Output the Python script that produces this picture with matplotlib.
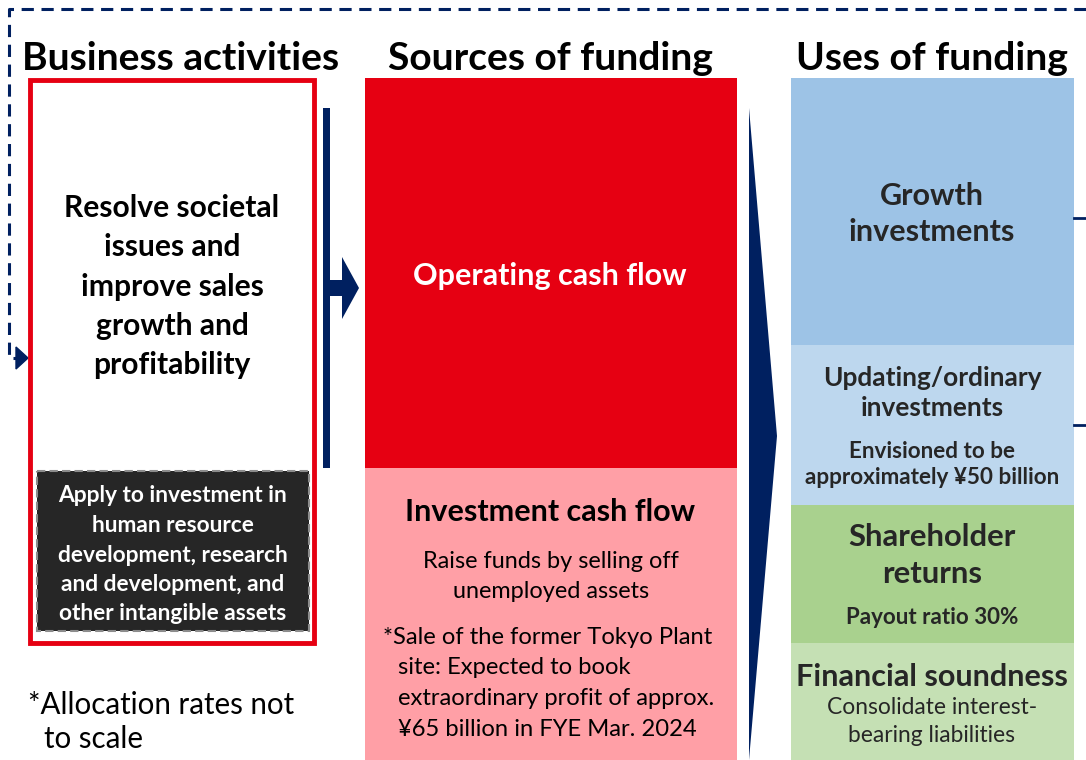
import matplotlib.pyplot as plt
from matplotlib.patches import Rectangle, Polygon

plt.rcParams['font.family'] = ['Lato', 'DejaVu Sans']

W, H = 1086, 760
PT = 0.72  # px -> pt at dpi 100
DY = 2     # small baseline nudge

NAVY = '#002060'
RED = '#e60012'
DARK = '#262626'

headers = ['Business activities', 'Sources of funding', 'Uses of funding']
business_lines = ['Resolve societal', 'issues and', 'improve sales', 'growth and', 'profitability']
intangible_lines = ['Apply to investment in', 'human resource', 'development, research',
                    'and development, and', 'other intangible assets']
operating_label = 'Operating cash flow'
investment_title = 'Investment cash flow'
investment_lines = ['Raise funds by selling off', 'unemployed assets']
note_lines = ['*Sale of the former Tokyo Plant', 'site: Expected to book',
              'extraordinary profit of approx.', '¥65 billion in FYE Mar. 2024']
scale_note = ['*Allocation rates not', 'to scale']

uses_titles = [['Growth', 'investments'], ['Updating/ordinary', 'investments'],
               ['Shareholder', 'returns'], ['Financial soundness']]
uses_subs = [[], ['Envisioned to be', 'approximately ¥50 billion'],
             ['Payout ratio 30%'], ['Consolidate interest-', 'bearing liabilities']]
uses_colors = ['#9dc3e6', '#bdd7ee', '#a9d18e', '#c5e0b4']
uses_edges = [78, 345, 505, 643, 760]

fig = plt.figure(figsize=(W / 100, H / 100), dpi=100)
ax = fig.add_axes([0, 0, 1, 1])
ax.set_xlim(0, W)
ax.set_ylim(H, 0)
ax.axis('off')


def txt(x, y, s, px, bold=False, color='black', ha='center'):
    ax.text(x, y + DY, s, fontsize=px * PT, fontweight='bold' if bold else 'normal',
            color=color, ha=ha, va='center')


# feedback dashed loop
ax.plot([W, 9, 9, 22], [9, 9, 358, 358], color=NAVY, lw=2.2, ls=(0, (4, 2.5)),
        solid_capstyle='butt')
ax.add_patch(Polygon([[16, 347], [28, 358], [16, 369]], color=NAVY))

# headers
for x, s in zip([181, 550, 932], headers):
    txt(x, 57, s, 39, bold=True)

# business activities box
ax.add_patch(Rectangle((30, 80), 284, 563, fill=False, ec=RED, lw=3.5))
for i, s in enumerate(business_lines):
    txt(172, 206 + i * 39.3, s, 30, bold=True)
ax.add_patch(Rectangle((37, 471), 272, 160, fc=DARK, ec='#8c8c8c', lw=1.5, ls=(0, (4, 2))))
for i, s in enumerate(intangible_lines):
    txt(173, 494 + i * 29.5, s, 22.8, bold=True, color='white')
for i, s in enumerate(scale_note):
    txt(28 + i * 16, 703 + i * 34, s, 29.5, ha='left')

# arrow to sources
ax.add_patch(Rectangle((323, 108), 7, 360, color=NAVY, lw=0))
ax.add_patch(Polygon([[330, 280], [342, 280], [342, 257], [359, 288],
                      [342, 319], [342, 296], [330, 296]], color=NAVY, lw=0))

# sources of funding
ax.add_patch(Rectangle((365, 78), 372, 390, color=RED, lw=0))
txt(550, 274, operating_label, 30.5, bold=True, color='white')
ax.add_patch(Rectangle((365, 468), 372, 292, color='#ff9fa6', lw=0))
txt(550, 510, investment_title, 30.5, bold=True)
for i, s in enumerate(investment_lines):
    txt(551, 560 + i * 30, s, 23.5)
for i, s in enumerate(note_lines):
    txt(383 if i == 0 else 398, 635 + i * 30.7, s, 23.7, ha='left')

# big wedge arrow
ax.add_patch(Polygon([[749, 108], [777, 436], [749, 760]], color=NAVY, lw=0))

# uses of funding
title_px = [30.5, 26.3, 31, 30.7]
title_y = [[194, 230], [376, 406], [535, 572], [675]]
sub_y = [[], [449, 476], [615], [706, 733]]
sub_bold = [True, True, True, False]
sub_px = [22.5, 22.5, 22.4, 22.8]
for k in range(4):
    y0, y1 = uses_edges[k], uses_edges[k + 1]
    ax.add_patch(Rectangle((791, y0), 283, y1 - y0, color=uses_colors[k], lw=0))
    for s, y in zip(uses_titles[k], title_y[k]):
        txt(932, y, s, title_px[k], bold=True, color=DARK)
    for s, y in zip(uses_subs[k], sub_y[k]):
        txt(932, y, s, sub_px[k], bold=sub_bold[k], color=DARK)

# connector stubs on the right
for y in [218, 425]:
    ax.plot([1074, W], [y, y], color=NAVY, lw=2)

fig.savefig('out.png', dpi=100)
